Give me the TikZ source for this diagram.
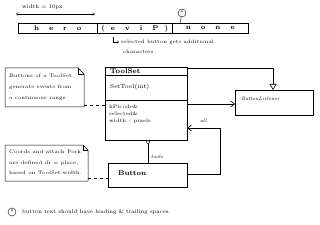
\documentclass[tikz,border=0pt]{standalone}
\usetikzlibrary{arrows.meta,shapes.geometric}
\begin{document}
\begin{tikzpicture}[x=1pt,y=-1pt,
  ln/.style={draw=black, line width=0.6pt},
  sm/.style={font=\fontsize{5}{6}\selectfont, inner sep=0pt},
  big/.style={font=\fontsize{7}{8}\selectfont\bfseries, inner sep=0pt},
  cell/.style={ln, minimum height=10pt, inner sep=0pt, anchor=north west, font=\fontsize{7}{7}\selectfont\bfseries},
  notebox/.style={ln, line width=0.5pt},
  dsh/.style={draw=black, dashed, line width=0.5pt},
  uml/.style={ln, -{Straight Barb[length=4pt,width=6pt]}},
  gen/.style={ln, -{Triangle[open,length=6pt,width=7pt]}}]
\useasboundingbox[fill=white] (0,0) rectangle (320,224);

% --- top row ---
\node[sm, anchor=west, font=\fontsize{5.5}{6}\selectfont] (wlab) at (22,7) {width = 10px};
\coordinate (wa) at (16,14);
\coordinate (wb) at (95,14);
\draw[ln, line width=0.4pt, {Straight Barb[length=2pt,width=3pt]}-{Straight Barb[length=2pt,width=3pt]}] (wa) -- (wb);
\node[cell, minimum width=79pt] (hero) at (18,23) {h\hspace{10pt}e\hspace{10pt}r\hspace{10pt}o};
\node[cell, minimum width=75pt] (evil) at (97,23) {(\hspace{6pt}e\hspace{10pt}v\hspace{10pt}i\hspace{10pt}P\hspace{6pt})};
\node[cell, minimum width=76pt] (none) at (172,23) {n\hspace{10pt}o\hspace{10pt}n\hspace{10pt}e};
\node[ln, circle, line width=0.4pt, inner sep=0pt, minimum size=8pt, font=\fontsize{5}{5}\selectfont] (star) at (182,13) {*};
\coordinate (startip) at (180,23);
\draw[ln, line width=0.4pt] (star) -- (startip);
\coordinate (hk1) at (113,37);
\coordinate (hk2) at (119,42);
\draw[ln, line width=0.4pt, -{Straight Barb[length=1.5pt,width=2.5pt]}] (hk1) |- (hk2);
\node[sm, anchor=west] (sel1) at (121,42) {selected button gets additional};
\node[sm, anchor=west] (sel2) at (123,52) {characters.};

% --- note 1 ---
\draw[notebox] (5,68) -- (78,68) -- (84,74) -- (84,107) -- (5,107) -- cycle;
\draw[notebox] (78,68) -- (78,74) -- (84,74);
\node[sm, anchor=west] (n1a) at (9,76) {Buttons of a ToolSet};
\node[sm, anchor=west] (n1b) at (9,87) {generate events from};
\node[sm, anchor=west] (n1c) at (9,98) {a continuous range};
\coordinate (n1) at (84,105);

% --- ToolSet class ---
\node[ln, line width=0.8pt, minimum width=82pt, minimum height=73pt, anchor=north west, inner sep=0pt] (ts) at (105,67) {};
\draw[ln, line width=0.9pt] (105,75) -- (187,75);
\draw[ln, line width=0.9pt] (105,100) -- (187,100);
\node[big, anchor=west] (tsname) at (110,71) {ToolSet};
\node[sm, anchor=west, font=\fontsize{6}{7}\selectfont] (tsop) at (110,87) {SetTool(int)};
\node[sm, anchor=west] (tsa1) at (109,107) {hPicode\&};
\node[sm, anchor=west] (tsa2) at (109,114) {selected\&};
\node[sm, anchor=west] (tsa3) at (109,121) {width : pixels};
\draw[dsh] (n1) -- (ts.west |- n1);

% --- Button class ---
\node[ln, minimum width=79pt, minimum height=24pt, anchor=north west, inner sep=0pt] (btn) at (108,163) {};
\node[big, anchor=west] (btnname) at (118,173) {Button};
\node[draw, diamond, line width=0.5pt, inner sep=0pt, minimum size=4pt, fill=white] (dia) at (148,142) {};
\draw[ln] (dia) -- (btn.north -| dia);
\node[sm, anchor=west, font=\fontsize{5}{6}\selectfont\itshape] (tools) at (151,157) {tools};

% --- note 2 ---
\draw[notebox] (5,145) -- (83,145) -- (88,150) -- (88,181) -- (5,181) -- cycle;
\draw[notebox] (83,145) -- (83,150) -- (88,150);
\node[sm, anchor=west] (n2a) at (9,152) {Coords and attach Pork};
\node[sm, anchor=west] (n2b) at (9,163) {are defined dr = place,};
\node[sm, anchor=west] (n2c) at (9,173) {based on ToolSet.width.};
\coordinate (n2) at (88,178);
\draw[dsh] (n2) -- (btn.west |- n2);

% --- ButtonListener ---
\node[ln, minimum width=78pt, minimum height=25pt, anchor=north west, inner sep=0pt] (bl) at (235,90) {};
\node[sm, anchor=west, font=\fontsize{5}{6}\selectfont\itshape] (blname) at (239,99) {:ButtonListener};

% --- connectors ---
\coordinate (c1) at (187,68);
\coordinate (c1t) at (273,90);
\draw[gen] (c1) -| (c1t);
\coordinate (c2) at (187,104);
\draw[uml] (c2) -- (bl.west |- c2);
\coordinate (c3a) at (187,174);
\coordinate (c3b) at (220,128);
\coordinate (c3c) at (187,128);
\draw[uml] (c3a) -| (c3b) -- (c3c);
\node[sm, anchor=west, font=\fontsize{5}{6}\selectfont\itshape] (all) at (200,121) {all};

% --- footer ---
\node[ln, circle, line width=0.4pt, inner sep=0pt, minimum size=8pt, font=\fontsize{5}{5}\selectfont] (fstar) at (12,212) {*};
\node[sm, anchor=west, font=\fontsize{5.5}{6}\selectfont] (foot) at (22,212) {button text should have leading \& trailing spaces.};
\end{tikzpicture}
\end{document}
